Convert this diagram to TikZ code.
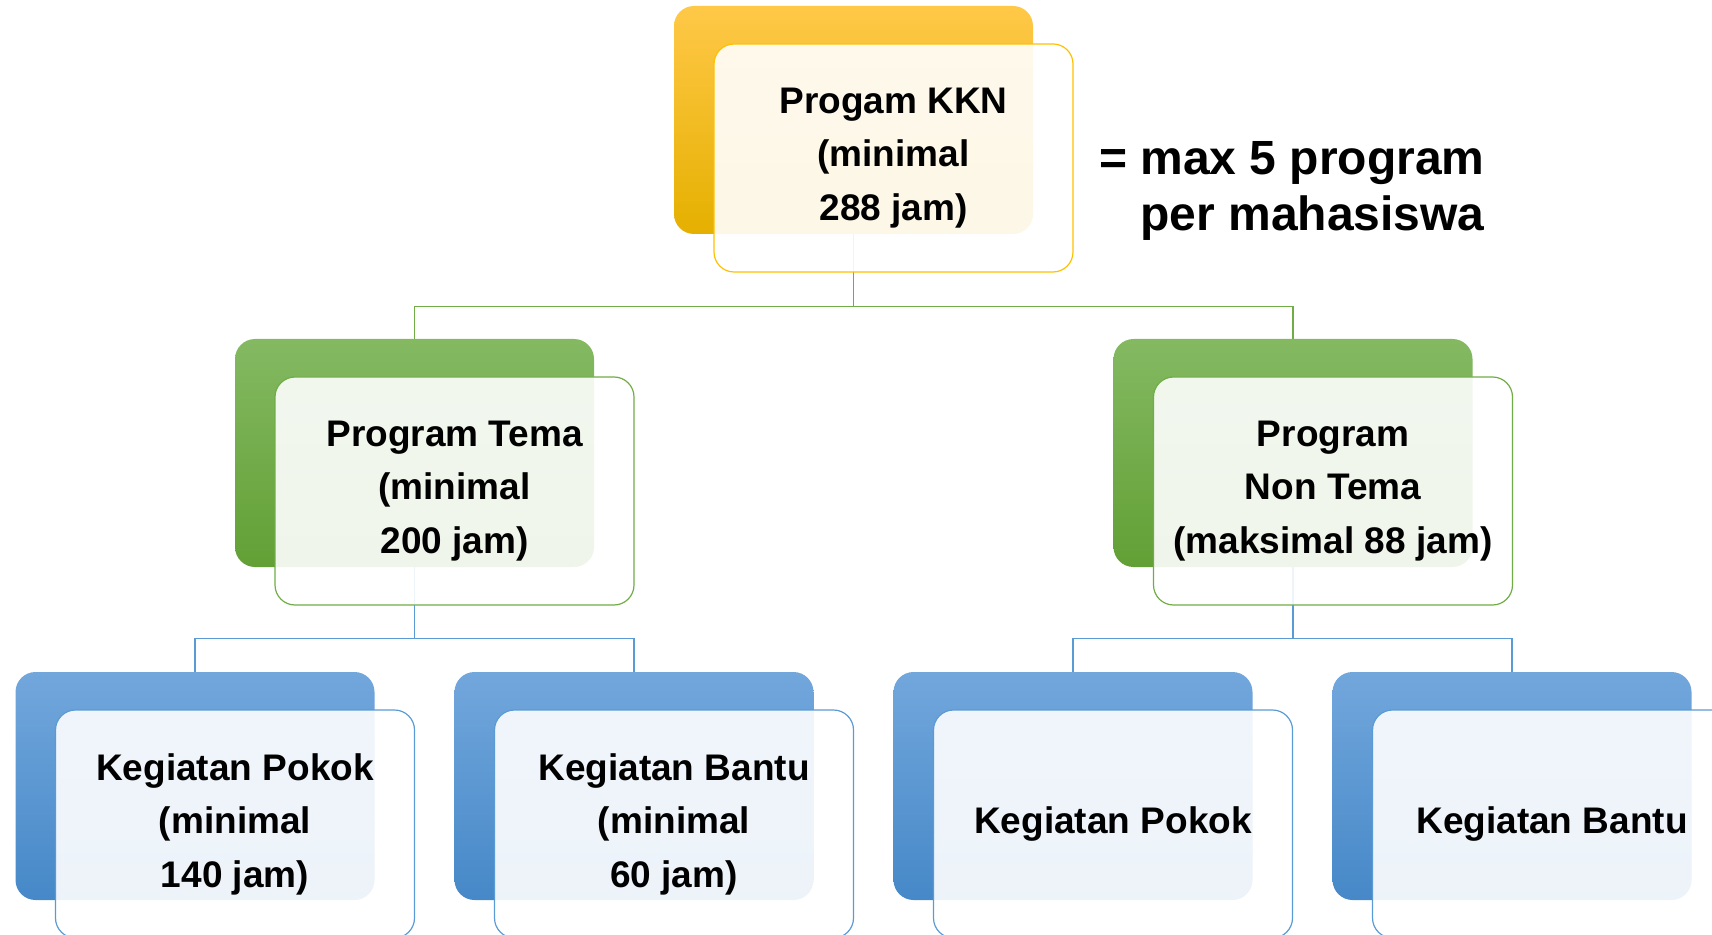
\documentclass[tikz,border=0pt]{standalone}
\usepackage{fontspec}
\setmainfont{Liberation Sans}
\definecolor{yelA}{RGB}{255,200,72}
\definecolor{yelB}{RGB}{255,196,0}
\definecolor{yelC}{RGB}{229,176,0}
\definecolor{yelL}{HTML}{FFC000}
\definecolor{grnA}{RGB}{132,185,98}
\definecolor{grnB}{RGB}{112,173,71}
\definecolor{grnC}{RGB}{98,160,53}
\definecolor{grnL}{HTML}{70AD47}
\definecolor{bluA}{RGB}{114,167,220}
\definecolor{bluB}{RGB}{91,155,213}
\definecolor{bluC}{RGB}{70,136,200}
\definecolor{bluL}{HTML}{5B9BD5}
\begin{document}
\begin{tikzpicture}[x=0.5pt,y=-0.5pt,
  backbox/.style={minimum width=179.5pt, minimum height=114pt, inner sep=0pt, rounded corners=10pt, draw=none},
  ybox/.style={backbox, top color=yelA, middle color=yelB, bottom color=yelC},
  gbox/.style={backbox, top color=grnA, middle color=grnB, bottom color=grnC},
  bbox/.style={backbox, top color=bluA, middle color=bluB, bottom color=bluC},
  frontbox/.style={minimum width=179.5pt, minimum height=114pt, inner sep=0pt, rounded corners=10pt,
    fill=white, fill opacity=0.9, text opacity=1, line width=0.6pt, align=center,
    font=\fontsize{18.5}{26.75}\selectfont\bfseries},
  gline/.style={draw=grnL, line width=0.75pt},
  bline/.style={draw=bluL, line width=0.75pt}]
\useasboundingbox (0,0) rectangle (1712,935);
% back boxes
\node[ybox] (top) at (853.5,120) {};
\node[gbox] (midL) at (414.5,453) {};
\node[gbox] (midR) at (1293,453) {};
\node[bbox] (b1) at (195,786) {};
\node[bbox] (b2) at (634,786) {};
\node[bbox] (b3) at (1073,786) {};
\node[bbox] (b4) at (1512,786) {};
% connectors
\draw[gline] (top.south) -- ++(0,72) -| (midL.north);
\draw[gline] (top.south) -- ++(0,72) -| (midR.north);
\draw[bline] (midL.south) -- ++(0,71) -| (b1.north);
\draw[bline] (midL.south) -- ++(0,71) -| (b2.north);
\draw[bline] (midR.south) -- ++(0,71) -| (b3.north);
\draw[bline] (midR.south) -- ++(0,71) -| (b4.north);
% front boxes
\node[frontbox, draw=yelL] (topF) at (893.5,158) {Progam KKN\\(minimal\\288 jam)};
\node[frontbox, draw=grnL] (midLF) at (454.5,491) {Program Tema\\(minimal\\200 jam)};
\node[frontbox, draw=grnL] (midRF) at (1333,491) {Program\\Non Tema\\(maksimal 88 jam)};
\node[frontbox, draw=bluL] (b1F) at (235,824) {Kegiatan Pokok\\(minimal\\140 jam)};
\node[frontbox, draw=bluL] (b2F) at (674,824) {Kegiatan Bantu\\(minimal\\60 jam)};
\node[frontbox, draw=bluL] (b3F) at (1113,824) {Kegiatan Pokok};
\node[frontbox, draw=bluL] (b4F) at (1552,824) {Kegiatan Bantu};
% side note
\node[font=\fontsize{24}{28}\selectfont\bfseries, align=right, anchor=east, inner sep=0pt] (note) at (1485,191) {= max 5 program\\per mahasiswa};
\end{tikzpicture}
\end{document}
